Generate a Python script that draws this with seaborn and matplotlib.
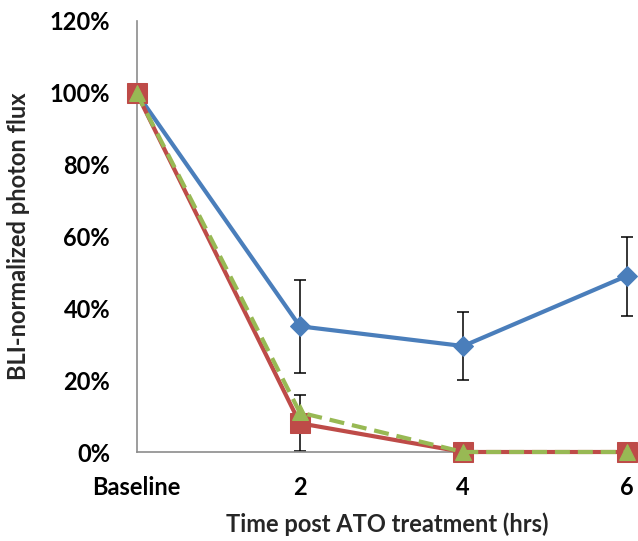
import numpy as np
import pandas as pd
import matplotlib
matplotlib.use("Agg")
import matplotlib.pyplot as plt
import seaborn as sns
from matplotlib.ticker import PercentFormatter

# data (percent of baseline photon flux)
time_labels = ["Baseline", "2", "4", "6"]
blue_vals = [100, 35, 29.5, 49]
blue_err = [0, 13, 9.5, 11]
red_vals = [100, 8, 0, 0]
red_err = [0, 7.8, 0, 0]
green_vals = [100, 11, 0, 0]

pos = np.arange(len(time_labels))
df = pd.DataFrame({
    "pos": np.tile(pos, 3),
    "flux": blue_vals + red_vals + green_vals,
    "series": ["blue"] * 4 + ["red"] * 4 + ["green"] * 4,
})

sns.set_theme(style="white")
plt.rcParams["font.family"] = ["Lato", "DejaVu Sans"]

fig = plt.figure(figsize=(6.38, 5.41), dpi=100)
ax = fig.add_axes([136.5 / 638, 89 / 541, 501.5 / 638, 431 / 541])

ax.errorbar(pos, blue_vals, yerr=blue_err, fmt="none", ecolor="black",
            elinewidth=1.1, capsize=4, capthick=1.1, zorder=2)
ax.errorbar(pos, red_vals, yerr=red_err, fmt="none", ecolor="black",
            elinewidth=1.1, capsize=4, capthick=1.1, zorder=2)

blue = "#4a7ebb"
red = "#be4b48"
green = "#98b954"

sns.lineplot(data=df[df.series == "blue"], x="pos", y="flux", color=blue,
             lw=3, marker="D", markersize=10, markeredgecolor=blue,
             clip_on=False, ax=ax, zorder=3)
sns.lineplot(data=df[df.series == "red"], x="pos", y="flux", color=red,
             lw=3, marker="s", markersize=14, markeredgecolor=red,
             clip_on=False, ax=ax, zorder=4)
sns.lineplot(data=df[df.series == "green"], x="pos", y="flux", color=green,
             lw=3, marker="^", markersize=12, markeredgecolor=green,
             dashes=(3.6, 1.9), clip_on=False, ax=ax, zorder=5)

ax.set_xlim(0, 3.07)
ax.set_ylim(0, 120)
ax.set_yticks(np.arange(0, 121, 20))
ax.yaxis.set_major_formatter(PercentFormatter(decimals=0))
ax.set_xticks(pos)
ax.set_xticklabels(time_labels)

for side in ["top", "right"]:
    ax.spines[side].set_visible(False)
for side in ["left", "bottom"]:
    ax.spines[side].set_color("#8c8c8c")
    ax.spines[side].set_linewidth(1.2)
ax.tick_params(axis="both", direction="out", length=5, width=1.2,
               color="#8c8c8c", labelsize=17, labelcolor="black")
ax.tick_params(axis="y", pad=14)
ax.tick_params(axis="x", pad=12)
for lab in ax.get_xticklabels() + ax.get_yticklabels():
    lab.set_fontweight("bold")

ax.set_xlabel("Time post ATO treatment (hrs)", fontsize=17, fontweight="bold", labelpad=10)
ax.set_ylabel("BLI-normalized photon flux", fontsize=17, fontweight="bold", labelpad=14)

fig.savefig("out.png", dpi=100)
